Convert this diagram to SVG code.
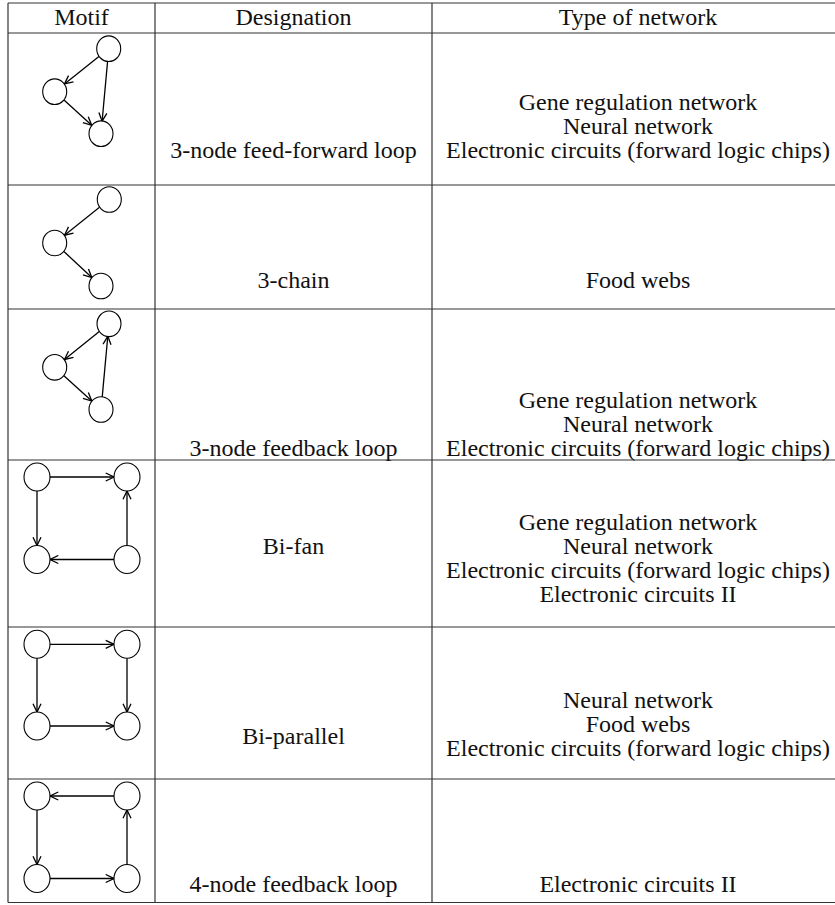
<svg xmlns="http://www.w3.org/2000/svg" width="835" height="905" viewBox="0 0 835 905">
<defs>
<marker id="ah" viewBox="0 0 10 10" refX="9.3" refY="5" markerWidth="10" markerHeight="10" markerUnits="userSpaceOnUse" orient="auto">
<path d="M1,1 L9.3,5 L1,9" fill="none" stroke="#000" stroke-width="1.3"/>
</marker>
<style>
.grid{stroke:#333;stroke-width:1.2;fill:none}
.n{fill:#fff;stroke:#000;stroke-width:1.1}
.e{stroke:#000;stroke-width:1.3;fill:none;marker-end:url(#ah)}
</style>
</defs>
<rect width="835" height="905" fill="#fff"/>
<g id="table">
<line class="grid" x1="8" y1="3" x2="835" y2="3"/>
<line class="grid" x1="8" y1="33" x2="835" y2="33"/>
<line class="grid" x1="8" y1="185" x2="835" y2="185"/>
<line class="grid" x1="8" y1="309" x2="835" y2="309"/>
<line class="grid" x1="8" y1="460" x2="835" y2="460"/>
<line class="grid" x1="8" y1="627" x2="835" y2="627"/>
<line class="grid" x1="8" y1="779" x2="835" y2="779"/>
<line class="grid" x1="8" y1="902.5" x2="835" y2="902.5"/>
<line class="grid" x1="8" y1="3" x2="8" y2="902.5"/>
<line class="grid" x1="155" y1="3" x2="155" y2="902.5"/>
<line class="grid" x1="432" y1="3" x2="432" y2="902.5"/>
</g>
<g font-family="'Liberation Serif', 'Times New Roman', serif" font-size="24" fill="#111" text-anchor="middle">
<g id="header">
<text x="81.5" y="25">Motif</text>
<text x="293.5" y="25">Designation</text>
<text x="638" y="25">Type of network</text>
</g>
<g id="row1-text">
<text x="293.5" y="158">3-node feed-forward loop</text>
<text x="638" y="110">Gene regulation network</text>
<text x="638" y="134">Neural network</text>
<text x="638" y="158">Electronic circuits (forward logic chips)</text>
</g>
<g id="row2-text">
<text x="293.5" y="288">3-chain</text>
<text x="638" y="288">Food webs</text>
</g>
<g id="row3-text">
<text x="293.5" y="456">3-node feedback loop</text>
<text x="638" y="408">Gene regulation network</text>
<text x="638" y="432">Neural network</text>
<text x="638" y="456">Electronic circuits (forward logic chips)</text>
</g>
<g id="row4-text">
<text x="293.5" y="554">Bi-fan</text>
<text x="638" y="530">Gene regulation network</text>
<text x="638" y="554">Neural network</text>
<text x="638" y="578">Electronic circuits (forward logic chips)</text>
<text x="638" y="602">Electronic circuits II</text>
</g>
<g id="row5-text">
<text x="293.5" y="744">Bi-parallel</text>
<text x="638" y="708">Neural network</text>
<text x="638" y="732">Food webs</text>
<text x="638" y="756">Electronic circuits (forward logic chips)</text>
</g>
<g id="row6-text">
<text x="293.5" y="892">4-node feedback loop</text>
<text x="638" y="892">Electronic circuits II</text>
</g>
</g>
<g id="connectors">
<line class="e" x1="98.9" y1="56.5" x2="64.5" y2="83.9"/>
<line class="e" x1="64" y1="100.1" x2="91.7" y2="125.3"/>
<line class="e" x1="107.6" y1="61.2" x2="102.1" y2="121.2"/>
<line class="e" x1="99.5" y1="207.3" x2="64.5" y2="235.2"/>
<line class="e" x1="63.9" y1="251.5" x2="91.8" y2="277.5"/>
<line class="e" x1="99.3" y1="331.6" x2="64.5" y2="359.5"/>
<line class="e" x1="63.9" y1="375.7" x2="91.8" y2="401.1"/>
<line class="e" x1="102.2" y1="397.1" x2="107.8" y2="336.2"/>
<line class="e" x1="50" y1="477" x2="114" y2="477"/>
<line class="e" x1="37" y1="491" x2="37" y2="545.5"/>
<line class="e" x1="114" y1="559.5" x2="50" y2="559.5"/>
<line class="e" x1="127" y1="545.5" x2="127" y2="491"/>
<line class="e" x1="50" y1="644.3" x2="114" y2="644.3"/>
<line class="e" x1="37" y1="658.3" x2="37" y2="712"/>
<line class="e" x1="127" y1="658.3" x2="127" y2="712"/>
<line class="e" x1="50" y1="726" x2="114" y2="726"/>
<line class="e" x1="114" y1="796" x2="50" y2="796"/>
<line class="e" x1="37" y1="810" x2="37" y2="864.5"/>
<line class="e" x1="50" y1="878.5" x2="114" y2="878.5"/>
<line class="e" x1="127" y1="864.5" x2="127" y2="810"/>
</g>
<g id="m1-top"><ellipse class="n" cx="108.7" cy="48.7" rx="12" ry="12.8"/></g>
<g id="m1-left"><ellipse class="n" cx="54.7" cy="91.7" rx="12" ry="12.8"/></g>
<g id="m1-bottom"><ellipse class="n" cx="101" cy="133.7" rx="12" ry="12.8"/></g>
<g id="m2-top"><ellipse class="n" cx="109.3" cy="199.5" rx="12" ry="12.8"/></g>
<g id="m2-left"><ellipse class="n" cx="54.7" cy="243" rx="12" ry="12.8"/></g>
<g id="m2-bottom"><ellipse class="n" cx="101" cy="286" rx="12" ry="12.8"/></g>
<g id="m3-top"><ellipse class="n" cx="109" cy="323.8" rx="12" ry="12.8"/></g>
<g id="m3-left"><ellipse class="n" cx="54.7" cy="367.3" rx="12" ry="12.8"/></g>
<g id="m3-bottom"><ellipse class="n" cx="101" cy="409.5" rx="12" ry="12.8"/></g>
<g id="m4-tl"><ellipse class="n" cx="37" cy="477" rx="13" ry="14"/></g>
<g id="m4-tr"><ellipse class="n" cx="127" cy="477" rx="13" ry="14"/></g>
<g id="m4-bl"><ellipse class="n" cx="37" cy="559.5" rx="13" ry="14"/></g>
<g id="m4-br"><ellipse class="n" cx="127" cy="559.5" rx="13" ry="14"/></g>
<g id="m5-tl"><ellipse class="n" cx="37" cy="644.3" rx="13" ry="14"/></g>
<g id="m5-tr"><ellipse class="n" cx="127" cy="644.3" rx="13" ry="14"/></g>
<g id="m5-bl"><ellipse class="n" cx="37" cy="726" rx="13" ry="14"/></g>
<g id="m5-br"><ellipse class="n" cx="127" cy="726" rx="13" ry="14"/></g>
<g id="m6-tl"><ellipse class="n" cx="37" cy="796" rx="13" ry="14"/></g>
<g id="m6-tr"><ellipse class="n" cx="127" cy="796" rx="13" ry="14"/></g>
<g id="m6-bl"><ellipse class="n" cx="37" cy="878.5" rx="13" ry="14"/></g>
<g id="m6-br"><ellipse class="n" cx="127" cy="878.5" rx="13" ry="14"/></g>
</svg>
